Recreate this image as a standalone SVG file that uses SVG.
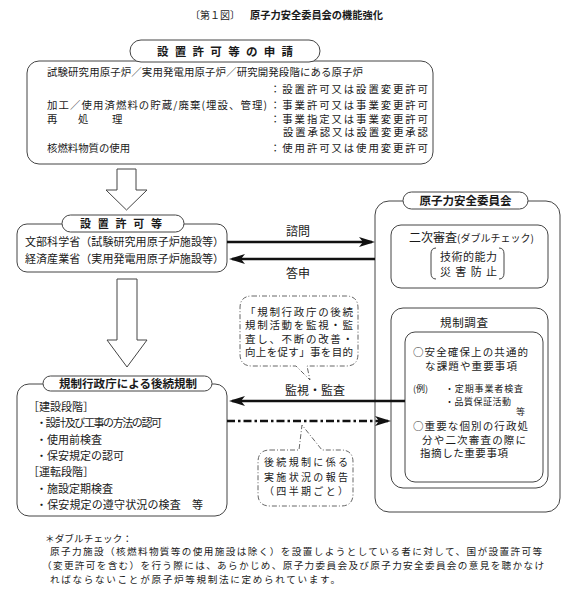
<svg xmlns="http://www.w3.org/2000/svg" width="580" height="597" viewBox="0 0 580 597">
<style>
.t{font-family:"Noto Sans CJK JP","Noto Sans CJK SC",sans-serif;fill:#1a1a1a}
.b{font-weight:bold}
.box{fill:none;stroke:#444;stroke-width:1}
.pill{fill:#fff;stroke:#444;stroke-width:1}
.call{fill:#fff;stroke:#555;stroke-width:0.9;stroke-dasharray:5 2 1 2}
.blk{fill:#fff;stroke:#444;stroke-width:1}
.thick{stroke:#111;stroke-width:2.6;fill:none}
</style>
<defs>
<marker id="ah" viewBox="0 0 16 10" refX="13" refY="5" markerWidth="16" markerHeight="10" markerUnits="userSpaceOnUse" orient="auto">
<path d="M0,0 L16,5 L0,10 L4,5 Z" fill="#111"/>
</marker>
</defs>
<rect width="580" height="597" fill="#fff"/>

<g id="title">
<text class="t" x="190" y="19" font-size="10">〔第１図〕</text>
<text class="t b" x="250" y="19" font-size="10.5" textLength="133" lengthAdjust="spacingAndGlyphs">原子力安全委員会の機能強化</text>
</g>

<g id="application">
<rect class="box" x="27" y="61" width="406" height="103" rx="12"/>
<rect class="pill" x="130" y="40" width="190" height="22" rx="11"/>
<text class="t b" x="157" y="55.5" font-size="11.5" textLength="136">設置許可等の申請</text>
<g font-size="10.4">
<text class="t" x="47" y="76" textLength="316">試験研究用原子炉／実用発電用原子炉／研究開発段階にある原子炉</text>
<text class="t" x="270" y="92.5" textLength="158">：設置許可又は設置変更許可</text>
<text class="t" x="47" y="108.5" textLength="220">加工／使用済燃料の貯蔵/廃棄(埋設、管理)</text>
<text class="t" x="270" y="108.5" textLength="158">：事業許可又は事業変更許可</text>
<text class="t" x="47" y="122.5">再</text>
<text class="t" x="78" y="122.5">処</text>
<text class="t" x="112" y="122.5">理</text>
<text class="t" x="270" y="122.5" textLength="158">：事業指定又は事業変更許可</text>
<text class="t" x="283" y="136" textLength="145">設置承認又は設置変更承認</text>
<text class="t" x="47" y="152">核燃料物質の使用</text>
<text class="t" x="270" y="152" textLength="158">：使用許可又は使用変更許可</text>
</g>
</g>

<g id="permission">
<rect class="box" x="17" y="224" width="210" height="48" rx="10"/>
<rect class="pill" x="62" y="215" width="122" height="17" rx="8.5"/>
<text class="t b" x="80" y="227.5" font-size="11" textLength="82">設置許可等</text>
<text class="t" x="25" y="245.5" font-size="11" textLength="199">文部科学省（試験研究用原子炉施設等）</text>
<text class="t" x="25" y="262.5" font-size="11" textLength="199">経済産業省（実用発電用原子炉施設等）</text>
</g>

<g id="nsc">
<rect class="box" x="375" y="201" width="185" height="311" rx="14"/>
<rect class="pill" x="403" y="192" width="125" height="17" rx="8.5"/>
<text class="t b" x="465.5" y="204.5" font-size="11.5" text-anchor="middle">原子力安全委員会</text>
</g>

<g id="double-check">
<rect class="box" x="391" y="225" width="157" height="63" rx="10"/>
<text class="t" x="409" y="241.5"><tspan font-size="12">二次審査</tspan><tspan font-size="10">(ダブルチェック)</tspan></text>
<path class="box" d="M436,248 Q431,248 431,254 L431,273 Q431,279 436,279 M499,248 Q504,248 504,254 L504,273 Q504,279 499,279"/>
<text class="t" x="440" y="260.5" font-size="11" textLength="57">技術的能力</text>
<text class="t" x="440" y="275.5" font-size="11" textLength="57">災害防止</text>
</g>

<g id="survey">
<rect class="box" x="391" y="308" width="157" height="180" rx="12"/>
<text class="t" x="440" y="326.5" font-size="11.5" textLength="48">規制調査</text>
<rect class="box" x="405" y="332" width="138" height="150" rx="10"/>
<g font-size="10.5">
<text class="t" x="413" y="356" textLength="115">○安全確保上の共通的</text>
<text class="t" x="425" y="369.5" textLength="92">な課題や重要事項</text>
<text class="t" x="413" y="430" textLength="115">○重要な個別の行政処</text>
<text class="t" x="422" y="443.5" textLength="104">分や二次審査の際に</text>
<text class="t" x="420" y="457" textLength="88">指摘した重要事項</text>
</g>
<g font-size="9">
<text class="t" x="413" y="391.5">(例)</text>
<text class="t" x="445" y="391.5" textLength="78">・定期事業者検査</text>
<text class="t" x="445" y="404.5" textLength="66">・品質保証活動</text>
<text class="t" x="516" y="415">等</text>
</g>
</g>

<g id="followup">
<rect class="box" x="17" y="384" width="210" height="132" rx="12"/>
<rect class="pill" x="43" y="376" width="169" height="15" rx="7.5"/>
<text class="t b" x="59" y="387.5" font-size="11.5" textLength="138">規制行政庁による後続規制</text>
<g font-size="11">
<text class="t" x="28" y="411">［建設段階］</text>
<text class="t" x="36" y="427" textLength="126">・設計及び工事の方法の認可</text>
<text class="t" x="36" y="444">・使用前検査</text>
<text class="t" x="36" y="460">・保安規定の認可</text>
<text class="t" x="28" y="476">［運転段階］</text>
<text class="t" x="36" y="493">・施設定期検査</text>
<text class="t" x="36" y="509" textLength="167">・保安規定の遵守状況の検査　等</text>
</g>
</g>

<g id="callout-purpose">
<path class="call" d="M252,296 H346 Q358,296 358,308 V354 Q358,366 346,366 H307 L310,380 L296,366 H252 Q240,366 240,354 V308 Q240,296 252,296 Z"/>
<g font-size="10.5">
<text class="t" x="245" y="315.5" textLength="108">「規制行政庁の後続</text>
<text class="t" x="245" y="329" textLength="108">規制活動を監視・監</text>
<text class="t" x="245" y="342.5" textLength="108">査し、不断の改善・</text>
<text class="t" x="245" y="356" textLength="108">向上を促す」事を目的</text>
</g>
</g>

<g id="callout-report">
<path class="call" d="M270,450 H299 L302,425 L322,450 H341 Q353,450 353,462 V494 Q353,506 341,506 H270 Q258,506 258,494 V462 Q258,450 270,450 Z"/>
<g font-size="10">
<text class="t" x="264" y="466" textLength="84">後続規制に係る</text>
<text class="t" x="264" y="480.5" textLength="84">実施状況の報告</text>
<text class="t" x="264" y="495" textLength="84">（四半期ごと）</text>
</g>
</g>

<g id="connectors">
<polygon class="blk" points="117,169 136,169 136,190 147,190 126.5,210 106,190 117,190"/>
<polygon class="blk" points="117,279 137,279 137,340 147,340 127,367 107,340 117,340"/>
<line class="thick" x1="227" y1="242" x2="372" y2="242" marker-end="url(#ah)"/>
<text class="t" x="298" y="236" font-size="12" text-anchor="middle">諮問</text>
<line class="thick" x1="375" y1="259" x2="232" y2="259" marker-end="url(#ah)"/>
<text class="t" x="298" y="278" font-size="12" text-anchor="middle">答申</text>
<line class="thick" x1="405" y1="401" x2="232" y2="401" marker-end="url(#ah)"/>
<text class="t" x="315" y="394.5" font-size="12" text-anchor="middle">監視・監査</text>
<line class="thick" x1="227" y1="421" x2="388" y2="421" stroke-dasharray="8 3 2.5 3" marker-end="url(#ah)"/>
</g>

<g id="footnote" font-size="9.6">
<text class="t" x="45" y="541.5" textLength="87">＊ダブルチェック：</text>
<text class="t" x="50" y="555.4" textLength="492">原子力施設（核燃料物質等の使用施設は除く）を設置しようとしている者に対して、国が設置許可等</text>
<text class="t" x="42" y="569.3" textLength="502">（変更許可を含む）を行う際には、あらかじめ、原子力委員会及び原子力安全委員会の意見を聴かなけ</text>
<text class="t" x="50" y="583.2" textLength="290">ればならないことが原子炉等規制法に定められています。</text>
</g>
</svg>
